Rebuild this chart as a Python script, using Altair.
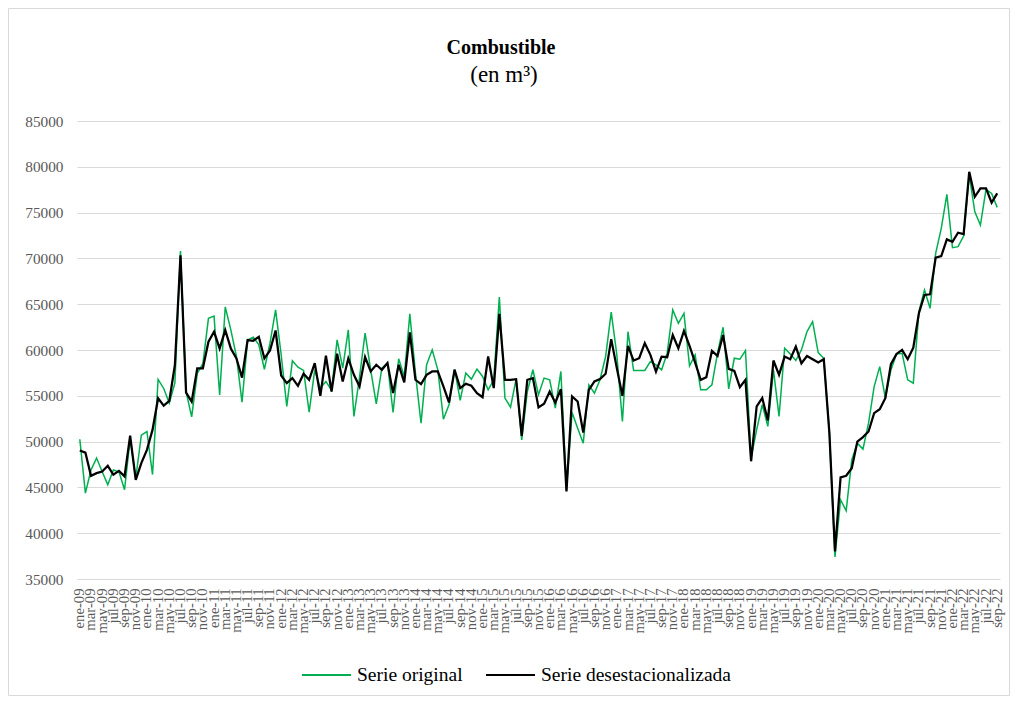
import altair as alt
import pandas as pd

meses = ["ene", "feb", "mar", "abr", "may", "jun", "jul", "ago", "sep", "oct", "nov", "dic"]
anios = ["09", "10", "11", "12", "13", "14", "15", "16", "17", "18", "19", "20", "21", "22"]
etiquetas = [f"{m}-{a}" for a in anios for m in meses][:165]

serie_original = [
    50260, 44380, 46900, 48200, 46700, 45300, 46900, 46700, 44750, 50300, 46000, 50700,
    51100, 46400, 56800, 55800, 54200, 56400, 70800, 55450, 52700, 57450, 58500, 63450,
    63700, 55100, 64700, 62200, 59300, 54300, 61100, 61400, 60600, 57900, 60750, 64390,
    59480, 53840, 58820, 58130, 57770, 53220, 57840, 55840, 56570, 55600, 61110, 58020,
    62210, 52740, 57000, 61840, 57840, 54130, 58020, 58570, 53180, 59040, 57110, 63950,
    57480, 52020, 58390, 60020, 57840, 52450, 54020, 57910, 54490, 57480, 56820, 57910,
    57110, 55650, 56750, 65770, 54750, 53760, 56820, 50190, 55470, 57840, 55110, 56930,
    56750, 53650, 57660, 44800, 53180, 51470, 49830, 56200, 55290, 56750, 59290, 64130,
    59500, 52200, 62000, 57760, 57760, 57760, 58740, 58380, 57830, 59650, 64370, 62910,
    64000, 58270, 59470, 55650, 55650, 56200, 59650, 62480, 55760, 59100, 58990, 59940,
    48200, 51300, 54020, 51660, 57830, 52750, 60190, 59570, 58850, 60010, 62010, 63100,
    59720, 59100, 51000, 37400, 43650, 42450, 48010, 49830, 49180, 52010, 56010, 58190,
    54740, 57830, 59570, 59640, 56740, 56370, 64190, 66550, 64550, 70550, 73280, 76990,
    71170, 71280, 72440, 79090, 75090, 73640, 77530, 77090, 75570,
]

serie_desest = [
    49030, 48800, 46270, 46560, 46740, 47360, 46380, 46800, 46200, 50660, 45830, 47650,
    49100, 51280, 54730, 53930, 54440, 58360, 70340, 55350, 54370, 58000, 58000, 60900,
    61990, 60170, 62170, 60170, 59080, 56980, 61080, 61010, 61440, 59080, 59950, 62130,
    57220, 56380, 56930, 56090, 57400, 56750, 58570, 55000, 59370, 55470, 59590, 56570,
    59080, 57290, 56020, 59220, 57660, 58390, 57840, 58570, 55290, 58390, 56460, 61920,
    56750, 56270, 57290, 57660, 57660, 56020, 54270, 57840, 55840, 56310, 56090, 55290,
    54850, 59290, 55840, 63950, 56750, 56750, 56820, 50630, 56750, 56930, 53730, 54130,
    55470, 54270, 55730, 44560, 54930, 54380, 50990, 55650, 56570, 56820, 57400, 61190,
    58020, 55000, 60450, 58850, 59100, 60740, 59470, 57650, 59280, 59210, 61640, 60190,
    62080, 60450, 58630, 56740, 57030, 59900, 59360, 61640, 57940, 57720, 55940, 56740,
    47850, 53840, 54750, 52310, 58850, 57290, 59280, 58990, 60370, 58550, 59350, 58990,
    58630, 58990, 50920, 38020, 46090, 46270, 47100, 50010, 50490, 51100, 53100, 53540,
    54740, 58450, 59570, 60010, 58990, 60260, 64010, 66010, 66080, 70080, 70260, 72080,
    71820, 72800, 72660, 79460, 76730, 77640, 77640, 76080, 77090,
]

series = ["Serie original", "Serie desestacionalizada"]
colores = ["#00B050", "#000000"]
y_ticks = [35000, 40000, 45000, 50000, 55000, 60000, 65000, 70000, 75000, 80000, 85000]

titulo = "Combustible"
subtitulo = "(en m³)"

df = pd.DataFrame({
    "mes": etiquetas + etiquetas,
    "serie": [series[0]] * len(serie_original) + [series[1]] * len(serie_desest),
    "valor": serie_original + serie_desest,
})

FONT = "Liberation Serif"

x_enc = alt.X(
    "mes:O",
    sort=etiquetas,
    scale=alt.Scale(type="point", padding=0.5),
    axis=alt.Axis(
        values=etiquetas[::2], labelAngle=270, labelOverlap=False, grid=False,
        ticks=False, domain=False, labelPadding=9, labelFontSize=14.7,
        labelColor="#595959", labelFont=FONT,
    ),
    title=None,
)
y_enc = alt.Y(
    "valor:Q",
    scale=alt.Scale(domain=[35000, 85000], nice=False, zero=False),
    axis=alt.Axis(
        values=y_ticks, format="d", ticks=False, domain=False, labelPadding=14,
        labelFontSize=15.3, labelColor="#595959", labelFont=FONT,
        gridColor="#d9d9d9", gridWidth=1,
    ),
    title=None,
)
color_enc = alt.Color(
    "serie:N",
    scale=alt.Scale(domain=series, range=colores),
    sort=series,
    legend=alt.Legend(
        orient="none", legendX=224, legendY=528.5, direction="horizontal",
        title=None, symbolType="stroke", symbolSize=2401, symbolStrokeWidth=2,
        labelFontSize=19.5, labelFont=FONT, labelColor="#000000", labelOffset=5,
        columnPadding=19, labelLimit=400,
    ),
)

base = alt.Chart(df).encode(x=x_enc, y=y_enc, color=color_enc)
linea_orig = base.transform_filter(alt.datum.serie == series[0]).mark_line(strokeWidth=1.5)
linea_des = base.transform_filter(alt.datum.serie == series[1]).mark_line(strokeWidth=2.25)

marco = alt.Chart(pd.DataFrame({"a": [0]})).mark_rect(
    fillOpacity=0, stroke="#d9d9d9", strokeWidth=1
).encode(
    x=alt.value(-68.5), x2=alt.value(932.5), y=alt.value(-112.5), y2=alt.value(574.5)
)

t1 = alt.Chart(pd.DataFrame({"t": [titulo]})).mark_text(
    font=FONT, fontSize=20, fontWeight="bold", align="center", baseline="alphabetic", color="#000000"
).encode(x=alt.value(424), y=alt.value(-67), text="t:N")

t2 = alt.Chart(pd.DataFrame({"t": [subtitulo]})).mark_text(
    font=FONT, fontSize=23, align="center", baseline="alphabetic", color="#000000"
).encode(x=alt.value(427), y=alt.value(-39), text="t:N")

chart = alt.layer(marco, linea_orig, linea_des, t1, t2).properties(
    width=923,
    height=458,
    padding={"left": 69, "top": 113, "right": 10, "bottom": 117},
    autosize=alt.AutoSizeParams(type="none"),
).configure_view(strokeWidth=0)

chart.save("out.html", embed_options={"renderer": "svg", "actions": False})
